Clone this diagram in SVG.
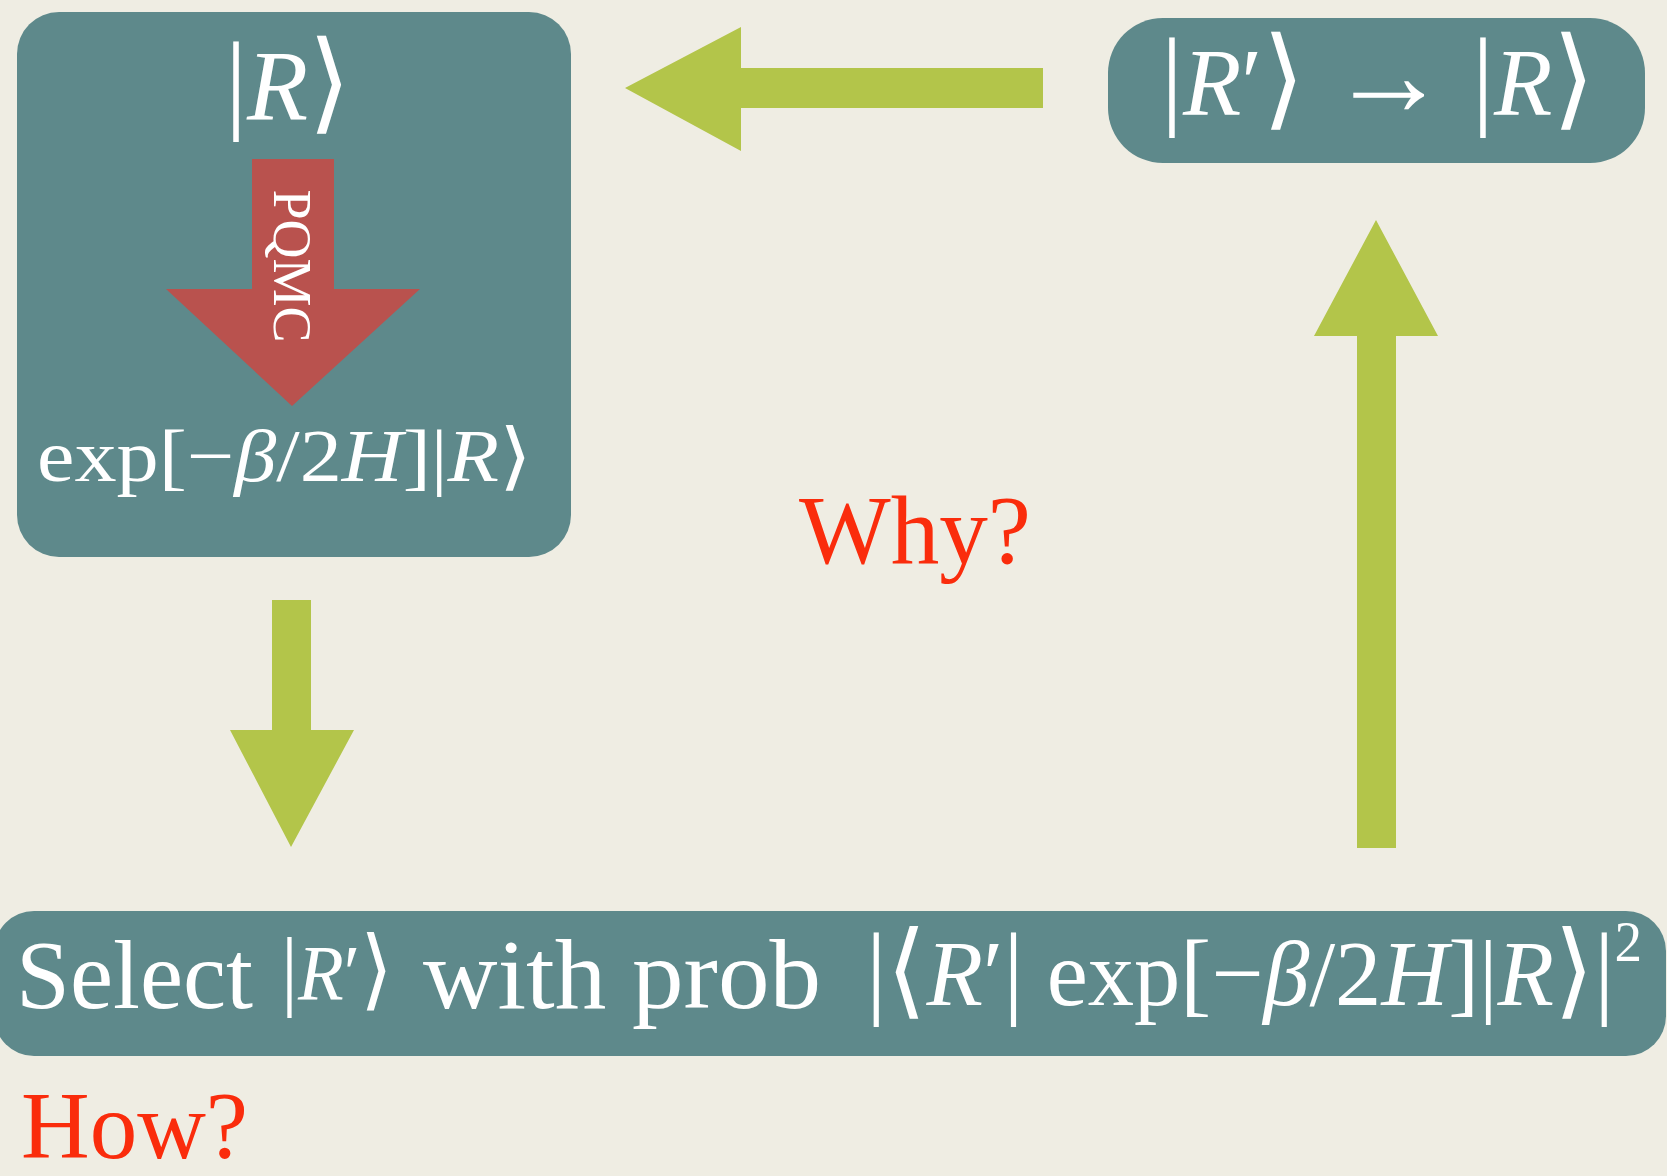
<svg xmlns="http://www.w3.org/2000/svg" width="1667" height="1176" viewBox="0 0 1667 1176">
<style>
.box{fill:#5e898b}
.green{fill:#b3c54a}
.red{fill:#b9524e}
.w{fill:#ffffff;font-family:"Liberation Serif","DejaVu Serif",serif}
.i{font-style:italic}
.q{fill:#fa2c0c;font-family:"Liberation Serif","DejaVu Serif",serif}
</style>
<rect x="0" y="0" width="1667" height="1176" fill="#efede3"/>
<g id="connectors">
<polygon class="green" points="625,88 741,27 741,68 1043,68 1043,108 741,108 741,151"/>
<polygon class="green" points="1376,220 1438,336 1396,336 1396,848 1357,848 1357,336 1314,336"/>
<polygon class="green" points="272,600 311,600 311,730 354,730 291,847 230,730 272,730"/>
</g>
<g id="node-R">
<rect class="box" x="17" y="12" width="554" height="545" rx="42"/>
<text class="w" x="288" y="119" font-size="100" text-anchor="middle"><tspan font-size="110">|</tspan><tspan class="i">R</tspan><tspan font-size="110">⟩</tspan></text>
<polygon class="red" points="252,159 334,159 334,289 420,289 292,406 166,289 252,289"/>
<text class="w" transform="translate(292,266) rotate(90)" x="0" y="18" font-size="54" text-anchor="middle">PQMC</text>
<text class="w" x="37" y="481" font-size="74" textLength="495" lengthAdjust="spacingAndGlyphs">exp[−<tspan class="i">β</tspan>/2<tspan class="i">H</tspan>]|<tspan class="i">R</tspan>⟩</text>
</g>
<g id="node-Rprime">
<rect class="box" x="1108" y="18" width="537" height="145" rx="55"/>
<text class="w" x="1161" y="115" font-size="96" textLength="434" lengthAdjust="spacingAndGlyphs"><tspan font-size="110">|</tspan><tspan class="i">R</tspan>′<tspan font-size="110">⟩</tspan> <tspan font-size="120">→</tspan> <tspan font-size="110">|</tspan><tspan class="i">R</tspan><tspan font-size="110">⟩</tspan></text>
</g>
<g id="node-why">
<text class="q" x="799" y="563" font-size="98" textLength="232" lengthAdjust="spacingAndGlyphs">Why?</text>
</g>
<g id="node-select">
<rect class="box" x="-6" y="911" width="1672" height="145" rx="40"/>
<text class="w" x="16" y="1008" font-size="98" textLength="237" lengthAdjust="spacingAndGlyphs">Select</text>
<text class="w" x="281" y="999" font-size="78" textLength="112" lengthAdjust="spacingAndGlyphs"><tspan font-size="88">|</tspan><tspan class="i">R</tspan>′<tspan font-size="88">⟩</tspan></text>
<text class="w" x="423" y="1008" font-size="100" textLength="398" lengthAdjust="spacingAndGlyphs">with prob</text>
<text class="w" x="866" y="1005" font-size="94" textLength="776" lengthAdjust="spacingAndGlyphs"><tspan font-size="104">|⟨</tspan><tspan class="i">R</tspan>′<tspan font-size="104">|</tspan> exp[−<tspan class="i">β</tspan>/2<tspan class="i">H</tspan>]|<tspan class="i">R</tspan><tspan font-size="104">⟩|</tspan><tspan font-size="56" dy="-44">2</tspan></text>
</g>
<g id="node-how">
<text class="q" x="21" y="1158" font-size="96" textLength="227" lengthAdjust="spacingAndGlyphs">How?</text>
</g>
</svg>
